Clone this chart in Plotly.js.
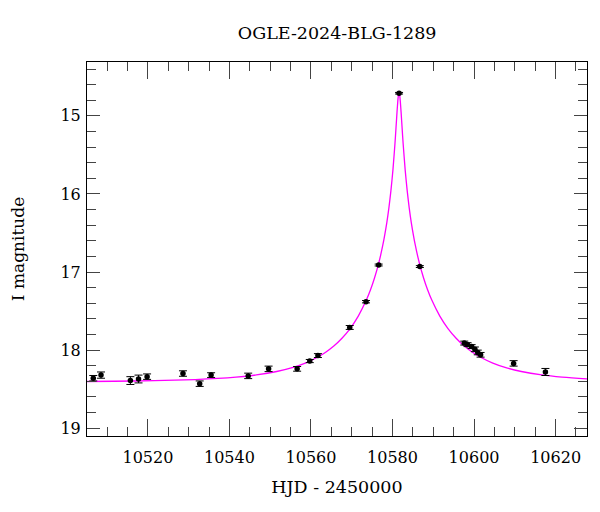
<!DOCTYPE html>
<html>
<head>
<meta charset="utf-8">
<script src="https://cdn.plot.ly/plotly-3.0.1.min.js"></script>
<style>html,body{margin:0;padding:0;background:#fff;}#chart{width:600px;height:512px;}</style>
</head>
<body>
<div id="chart"></div>
<script>
// Observed photometry (HJD - 2450000, I mag, error)
var obsHJD = [10506.6, 10508.5, 10515.7, 10517.7, 10519.8, 10528.6, 10532.7, 10535.5,
  10544.6, 10549.6, 10556.6, 10559.7, 10561.7, 10569.5, 10573.5, 10576.6, 10581.6,
  10586.7, 10597.6, 10598.4, 10599.4, 10600.2, 10600.9, 10601.6, 10609.7, 10617.5];
var obsMag = [18.36, 18.32, 18.39, 18.37, 18.34, 18.30, 18.43, 18.32,
  18.33, 18.24, 18.24, 18.14, 18.07, 17.71, 17.38, 16.91, 14.71,
  16.93, 17.91, 17.93, 17.955, 17.99, 18.03, 18.06, 18.17, 18.28];
var obsErr = [0.035, 0.04, 0.05, 0.05, 0.035, 0.035, 0.035, 0.03,
  0.035, 0.035, 0.03, 0.02, 0.025, 0.025, 0.015, 0.012, 0.01,
  0.012, 0.025, 0.025, 0.025, 0.03, 0.03, 0.03, 0.035, 0.045];

// Model light curve
var modelHJD = [10505.0, 10511.6, 10521.6, 10531.6, 10541.6, 10546.6, 10551.6, 10555.6,
  10558.6, 10561.6, 10563.6, 10565.6, 10567.6, 10569.6, 10571.6, 10573.6, 10574.6,
  10575.6, 10576.6, 10577.6, 10578.6, 10579.1, 10579.6, 10580.1, 10580.6, 10580.85,
  10581.1, 10581.3, 10581.4, 10581.5, 10581.6, 10581.7, 10581.8, 10581.9, 10582.1,
  10582.35, 10582.6, 10583.1, 10583.6, 10584.1, 10584.6, 10585.6, 10586.6, 10587.6,
  10588.6, 10589.6, 10591.6, 10593.6, 10595.6, 10597.6, 10599.6, 10601.6, 10604.6,
  10607.6, 10611.6, 10616.6, 10621.6, 10627.6, 10629.0];
var modelMag = [18.402, 18.399, 18.392, 18.377, 18.346, 18.318, 18.274, 18.221,
  18.166, 18.091, 18.027, 17.948, 17.848, 17.724, 17.564, 17.356, 17.227,
  17.073, 16.889, 16.660, 16.366, 16.182, 15.961, 15.691, 15.353, 15.156,
  14.952, 14.808, 14.754, 14.718, 14.707, 14.718, 14.754, 14.808, 14.952,
  15.156, 15.353, 15.691, 15.961, 16.182, 16.366, 16.660, 16.889, 17.073,
  17.227, 17.356, 17.564, 17.724, 17.848, 17.948, 18.027, 18.091, 18.166,
  18.221, 18.274, 18.318, 18.346, 18.368, 18.372];

var xTickVals = [10520, 10540, 10560, 10580, 10600, 10620];
var yTickVals = [15, 16, 17, 18, 19];

var serif = 'DejaVu Serif, serif';

var traces = [
  {
    x: modelHJD, y: modelMag, type: 'scatter', mode: 'lines',
    line: {color: '#ff00ff', width: 1.3, shape: 'spline', smoothing: 0.6},
    hoverinfo: 'skip', showlegend: false
  },
  {
    x: obsHJD, y: obsMag, type: 'scatter', mode: 'markers',
    marker: {color: '#000', size: 5.5},
    error_y: {type: 'data', array: obsErr, visible: true, color: '#000', thickness: 1, width: 4},
    showlegend: false
  }
];

var axisCommon = {
  showgrid: false, zeroline: false, showline: true, linecolor: '#000', linewidth: 1,
  mirror: 'allticks', ticks: 'inside', tickcolor: '#444', tickwidth: 1,
  tickfont: {family: serif, size: 16, color: '#000'}
};

var layout = {
  width: 600, height: 512,
  margin: {l: 87, r: 13, t: 62, b: 76},
  paper_bgcolor: '#fff', plot_bgcolor: '#fff',
  title: {text: 'OGLE-2024-BLG-1289', font: {family: serif, size: 17.5, color: '#000'},
    x: 0.562, xanchor: 'center', y: 0.935, yanchor: 'middle'},
  xaxis: Object.assign({}, axisCommon, {
    range: [10505.06, 10627.7], tickmode: 'array', tickvals: xTickVals,
    ticktext: xTickVals.map(String), ticklen: 17, ticklabelstandoff: 7,
    minor: {dtick: 5, tick0: 0, ticklen: 9, tickcolor: '#444', ticks: 'inside', showgrid: false},
    title: {text: 'HJD - 2450000', font: {family: serif, size: 17.5, color: '#000'}, standoff: 14}
  }),
  yaxis: Object.assign({}, axisCommon, {
    range: [19.1, 14.31], tickmode: 'array', tickvals: yTickVals,
    ticktext: yTickVals.map(String), ticklen: 13, ticklabelstandoff: 2,
    minor: {dtick: 0.2, tick0: 0, ticklen: 9, tickcolor: '#444', ticks: 'inside', showgrid: false},
    title: {text: 'I magnitude', font: {family: serif, size: 17, color: '#000'}, standoff: 31}
  })
};

Plotly.newPlot('chart', traces, layout, {displayModeBar: false, staticPlot: true});
</script>
</body>
</html>
